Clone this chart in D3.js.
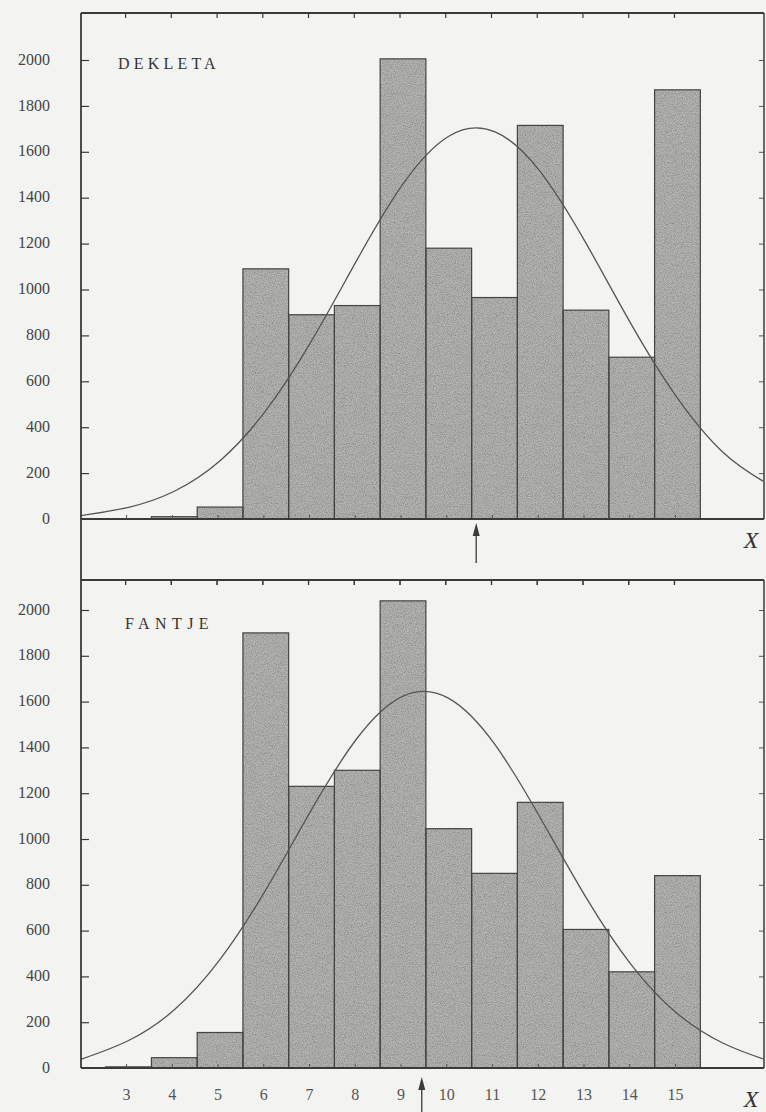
<!DOCTYPE html>
<html>
<head>
<meta charset="utf-8">
<script src="https://cdn.jsdelivr.net/npm/d3@7"></script>
<style>
  html, body { margin: 0; padding: 0; background: #f3f3f1; }
  svg { display: block; }
</style>
</head>
<body>
<svg id="chart" width="766" height="1112"></svg>
<script>
// ---------- data ----------
const bins = [3, 4, 5, 6, 7, 8, 9, 10, 11, 12, 13, 14, 15];
const dekletaCounts = [0, 10, 52, 1090, 890, 930, 2005, 1180, 965, 1715, 910, 705, 1870];
const fantjeCounts  = [5, 45, 155, 1900, 1230, 1300, 2040, 1045, 850, 1160, 605, 420, 840];
const yTicks = [0, 200, 400, 600, 800, 1000, 1200, 1400, 1600, 1800, 2000];
const xTickLabels = ["3", "4", "5", "6", "7", "8", "9", "10", "11", "12", "13", "14", "15"];
const panelTitles = ["DEKLETA", "FANTJE"];
// fitted normal curves
const curveX = [1.96, 3, 4, 5, 6, 7, 8, 9, 10, 11, 12, 13, 14, 15, 16, 16.87];
const dekletaCurve = [15, 51, 121, 254, 472, 776, 1131, 1460, 1668, 1688, 1514, 1202, 845, 527, 290, 165];
const fantjeCurve  = [38, 120, 254, 474, 778, 1128, 1441, 1624, 1614, 1415, 1093, 745, 448, 237, 108, 40];
const dekletaMean = 10.6;
const fantjeMean = 9.41;

// ---------- layout ----------
const svg = d3.select("#chart");
const frameL = 81, frameR = 764;
const x = d3.scaleLinear().domain([1.96, 16.87]).range([frameL, 763]);
const serif = "'Liberation Serif', 'DejaVu Serif', serif";

const defs = svg.append("defs");
const f = defs.append("filter").attr("id", "grain")
  .attr("x", 0).attr("y", 0).attr("width", 1).attr("height", 1);
f.append("feTurbulence").attr("type", "fractalNoise").attr("baseFrequency", 0.9)
  .attr("numOctaves", 2).attr("seed", 7).attr("result", "n");
f.append("feColorMatrix").attr("in", "n").attr("type", "matrix")
  .attr("values", "0 0 0 0 0.2  0 0 0 0 0.2  0 0 0 0 0.2  1.6 0 0 0 -0.55")
  .attr("result", "g");
f.append("feComposite").attr("in", "g").attr("in2", "SourceGraphic").attr("operator", "atop");

const panels = [
  { title: panelTitles[0], counts: dekletaCounts, curve: dekletaCurve, mean: dekletaMean,
    y0: 519, y2000: 60, top: 13, bottom: 580, titleX: 118, titleY: 69, spacing: 4.2,
    arrowTip: 523, arrowEnd: 563, xLabelY: 548, showLabels: false },
  { title: panelTitles[1], counts: fantjeCounts, curve: fantjeCurve, mean: fantjeMean,
    y0: 1068, y2000: 610, top: 580, bottom: 1068, titleX: 125, titleY: 629, spacing: 5.4,
    arrowTip: 1077, arrowEnd: 1112, xLabelY: 1107, showLabels: true }
];

const ink = "#3a3a3a";

panels.forEach((p) => {
  const y = d3.scaleLinear().domain([0, 2000]).range([p.y0, p.y2000]);
  const g = svg.append("g");
  const barData = bins.map((b, i) => ({ b, v: p.counts[i] })).filter(d => d.v > 0);

  // bars
  g.selectAll("rect.bar").data(barData).enter().append("rect")
    .attr("class", "bar")
    .attr("x", d => x(d.b - 0.5))
    .attr("y", d => y(d.v))
    .attr("width", d => x(d.b + 0.5) - x(d.b - 0.5))
    .attr("height", d => y(0) - y(d.v))
    .attr("fill", "#b4b4b2")
    .attr("filter", "url(#grain)");
  g.selectAll("rect.edge").data(barData).enter().append("rect")
    .attr("class", "edge")
    .attr("x", d => x(d.b - 0.5))
    .attr("y", d => y(d.v))
    .attr("width", d => x(d.b + 0.5) - x(d.b - 0.5))
    .attr("height", d => y(0) - y(d.v))
    .attr("fill", "none")
    .attr("stroke", "#444")
    .attr("stroke-width", 1.2);

  // curve
  const line = d3.line().x(d => x(d[0])).y(d => y(d[1])).curve(d3.curveNatural);
  g.append("path")
    .datum(curveX.map((cx, i) => [cx, p.curve[i]]))
    .attr("d", line)
    .attr("fill", "none")
    .attr("stroke", "#555")
    .attr("stroke-width", 1.3);

  // frame
  g.append("line").attr("x1", frameL).attr("x2", frameL).attr("y1", p.top).attr("y2", p.bottom)
    .attr("stroke", ink).attr("stroke-width", 1.8);
  g.append("line").attr("x1", frameR).attr("x2", frameR).attr("y1", p.top).attr("y2", p.y0)
    .attr("stroke", ink).attr("stroke-width", 1.5);
  g.append("line").attr("x1", frameL).attr("x2", frameR).attr("y1", p.top).attr("y2", p.top)
    .attr("stroke", ink).attr("stroke-width", 1.8);
  g.append("line").attr("x1", frameL).attr("x2", frameR).attr("y1", p.y0).attr("y2", p.y0)
    .attr("stroke", ink).attr("stroke-width", 1.8);

  // top border ticks (downward) at bin centres
  g.selectAll("line.tt").data(bins).enter().append("line")
    .attr("x1", d => x(d) - 3).attr("x2", d => x(d) - 3)
    .attr("y1", p.top).attr("y2", p.top + 5)
    .attr("stroke", ink).attr("stroke-width", 1.2);
  // baseline ticks (upward)
  g.selectAll("line.bt").data(bins).enter().append("line")
    .attr("x1", d => x(d) - 2).attr("x2", d => x(d) - 2)
    .attr("y1", p.y0).attr("y2", p.y0 - 4)
    .attr("stroke", "#555").attr("stroke-width", 1);

  // y axis (left) with inward ticks
  const ya = g.append("g").attr("transform", `translate(${frameL},0)`)
    .call(d3.axisRight(y).tickValues(yTicks.filter(v => v > 0)).tickSize(8).tickFormat(""));
  ya.select(".domain").remove();
  ya.selectAll(".tick line").attr("stroke", ink).attr("stroke-width", 1.2);

  // right-side inward ticks
  const yr = g.append("g").attr("transform", `translate(${frameR},0)`)
    .call(d3.axisLeft(y).tickValues(yTicks.filter(v => v > 0)).tickSize(5).tickFormat(""));
  yr.select(".domain").remove();
  yr.selectAll(".tick line").attr("stroke", "#555").attr("stroke-width", 1);

  // y labels
  g.selectAll("text.yl").data(yTicks).enter().append("text")
    .attr("x", 50).attr("y", d => y(d) + 1)
    .attr("text-anchor", "end").attr("dominant-baseline", "middle")
    .attr("font-family", serif)
    .attr("font-size", 16).attr("fill", "#444")
    .text(d => d);

  // title
  g.append("text")
    .attr("x", p.titleX).attr("y", p.titleY)
    .attr("font-family", serif)
    .attr("font-size", 16).attr("letter-spacing", p.spacing).attr("fill", "#333")
    .text(p.title);

  // X label
  g.append("text")
    .attr("x", 751).attr("y", p.xLabelY)
    .attr("text-anchor", "middle")
    .attr("font-family", serif)
    .attr("font-style", "italic")
    .attr("font-size", 24).attr("fill", "#333")
    .text("X");

  // mean arrow
  const ax = x(p.mean);
  g.append("line").attr("x1", ax).attr("x2", ax).attr("y1", p.arrowTip + 8).attr("y2", p.arrowEnd)
    .attr("stroke", ink).attr("stroke-width", 1.3);
  g.append("path")
    .attr("d", `M${ax},${p.arrowTip} L${ax - 3.5},${p.arrowTip + 13} L${ax + 3.5},${p.arrowTip + 13} Z`)
    .attr("fill", ink);

  // x tick labels (bottom panel only)
  if (p.showLabels) {
    g.selectAll("text.xl").data(bins).enter().append("text")
      .attr("x", d => x(d) - 2).attr("y", 1100)
      .attr("text-anchor", "middle")
      .attr("font-family", serif)
      .attr("font-size", 16).attr("fill", "#555")
      .text((d, i) => xTickLabels[i]);
  }
});

// separator ticks (downward from the shared border)
svg.selectAll("line.st").data(bins).enter().append("line")
  .attr("x1", d => x(d) - 3).attr("x2", d => x(d) - 3)
  .attr("y1", 580).attr("y2", 585)
  .attr("stroke", ink).attr("stroke-width", 1.2);
</script>
</body>
</html>
